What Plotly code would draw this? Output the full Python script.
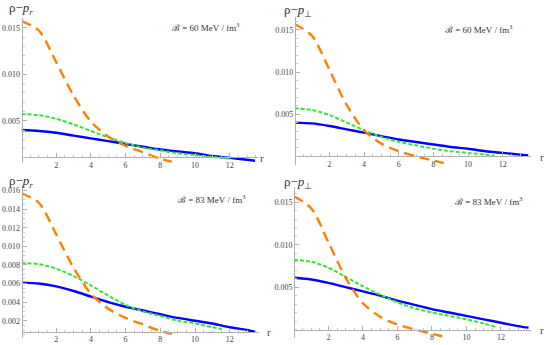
import plotly.graph_objects as go

# ---------------- data ----------------
# B = 60 MeV/fm^3, rho - p_r
r_blue_60r = [0, 1, 2, 3, 4, 5, 6, 7, 8, 9, 10, 11, 12, 13, 13.46]
blue_60r = [0.0040, 0.0039, 0.0037, 0.0034, 0.0031, 0.0028, 0.0025, 0.0022, 0.0019, 0.0017, 0.0015, 0.0012, 0.0010, 0.0008, 0.0007]
r_green_60r = [0, 1, 2, 3, 4, 5, 6, 7, 8, 9, 10, 11, 12.07]
green_60r = [0.0057, 0.0056, 0.0052, 0.0046, 0.0039, 0.0032, 0.0026, 0.0021, 0.0018, 0.0015, 0.0013, 0.0011, 0.0009]
r_orange_r = [0, 1, 2, 3, 4, 5, 6, 7, 8, 8.67]
orange_r = [0.0157, 0.0147, 0.0113, 0.0077, 0.0049, 0.0033, 0.0023, 0.0016, 0.0009, 0.0006]

# B = 60 MeV/fm^3, rho - p_perp
r_blue_60t = [0, 1, 2, 3, 4, 5, 6, 7, 8, 9, 10, 11, 12, 13, 13.5]
blue_60t = [0.0040, 0.0039, 0.0036, 0.0032, 0.0028, 0.0024, 0.0020, 0.0017, 0.0014, 0.0011, 0.0009, 0.0006, 0.0004, 0.0002, 0.0001]
r_green_60t = [0, 1, 2, 3, 4, 5, 6, 7, 8, 9, 10, 11, 11.55]
green_60t = [0.0057, 0.0055, 0.0049, 0.0040, 0.0031, 0.0023, 0.0017, 0.0013, 0.0009, 0.0006, 0.0004, 0.0002, 0.0000]
r_orange_t = [0, 1, 2, 3, 4, 5, 6, 7, 8, 8.6]
orange_t = [0.0157, 0.0143, 0.0103, 0.0061, 0.0031, 0.0015, 0.0006, 0.0000, -0.0005, -0.0008]

# B = 83 MeV/fm^3, rho - p_r
r_blue_83r = [0, 1, 2, 3, 4, 5, 6, 7, 8, 9, 10, 11, 12, 13, 13.46]
blue_83r = [0.0061, 0.0060, 0.0057, 0.0052, 0.0046, 0.0040, 0.0035, 0.0031, 0.0027, 0.0023, 0.0020, 0.0017, 0.0013, 0.0010, 0.0008]
r_green_83r = [0, 1, 2, 3, 4, 5, 6, 7, 8, 9, 10, 11, 11.54]
green_83r = [0.0082, 0.0081, 0.0076, 0.0068, 0.0058, 0.0047, 0.0037, 0.0030, 0.0025, 0.0020, 0.0017, 0.0013, 0.0011]

# B = 83 MeV/fm^3, rho - p_perp
r_blue_83t = [0, 1, 2, 3, 4, 5, 6, 7, 8, 9, 10, 11, 12, 13, 13.6]
blue_83t = [0.0061, 0.0059, 0.0055, 0.0050, 0.0045, 0.0040, 0.0034, 0.0029, 0.0024, 0.0020, 0.0016, 0.0012, 0.0008, 0.0004, 0.0002]
r_green_83t = [0, 1, 2, 3, 4, 5, 6, 7, 8, 9, 10, 11, 11.7]
green_83t = [0.0082, 0.0080, 0.0073, 0.0062, 0.0051, 0.0041, 0.0032, 0.0025, 0.0020, 0.0016, 0.0012, 0.0007, 0.0003]

x_ticks = [2, 4, 6, 8, 10, 12]
y_ticks_a = [0.005, 0.010, 0.015]
y_ticks_b = [0.002, 0.004, 0.006, 0.008, 0.010, 0.012, 0.014, 0.016]

y_titles = ["ρ−<i>p</i><sub><i>r</i></sub>", "ρ−<i>p</i><sub>⊥</sub>",
            "ρ−<i>p</i><sub><i>r</i></sub>", "ρ−<i>p</i><sub>⊥</sub>"]
b_labels = ["ℬ = 60 MeV / fm<sup>3</sup>", "ℬ = 60 MeV / fm<sup>3</sup>",
            "ℬ = 83 MeV / fm<sup>3</sup>", "ℬ = 83 MeV / fm<sup>3</sup>"]

# ---------------- layout geometry (pixels) ----------------
W, H = 550, 345
FONT = "Liberation Serif"
BLUE, GREEN, ORANGE = "#0000ff", "#33e633", "#ff8000"

panels = [
    dict(x0=21.5, xs=17.35, xr=[0.01, 13.65], y0=167.2, ys=9300, yr=[0.00045, 0.0160], ax=0.0011,
         yt=y_ticks_a, ym=0.001,
         series=[(r_blue_60r, blue_60r), (r_green_60r, green_60r), (r_orange_r, orange_r)],
         title=(7, 9), blab=(170, 27), rlab=(258, 158)),
    dict(x0=294.6, xs=17.35, xr=[0.01, 13.65], y0=156.3, ys=8430, yr=[-0.00105, 0.0165], ax=0.0,
         yt=y_ticks_a, ym=0.001,
         series=[(r_blue_60t, blue_60t), (r_green_60t, green_60t), (r_orange_t, orange_t)],
         title=(282, 10), blab=(443, 29), rlab=(538, 157)),
    dict(x0=21.5, xs=17.35, xr=[0.01, 13.7], y0=339.3, ys=9290, yr=[0.00015, 0.0166], ax=0.0008,
         yt=y_ticks_b, ym=0.0005,
         series=[(r_blue_83r, blue_83r), (r_green_83r, green_83r), (r_orange_r, orange_r)],
         title=(7, 181), blab=(176, 199), rlab=(265, 332)),
    dict(x0=293.9, xs=17.25, xr=[0.01, 13.75], y0=329.5, ys=8480, yr=[-0.00105, 0.0168], ax=0.0,
         yt=y_ticks_a, ym=0.001,
         series=[(r_blue_83t, blue_83t), (r_green_83t, green_83t), (r_orange_t, orange_t)],
         title=(282, 182), blab=(453, 201), rlab=(538, 330)),
]

styles = [dict(color=BLUE, width=2.4, dash="solid"),
          dict(color=GREEN, width=2.0, dash="4px,2px"),
          dict(color=ORANGE, width=2.4, dash="10px,6px")]

fig = go.Figure()
layout = dict(width=W, height=H, margin=dict(l=0, r=0, t=0, b=0, pad=0, autoexpand=False), autosize=False,
              paper_bgcolor="white", plot_bgcolor="rgba(0,0,0,0)", showlegend=False,
              font=dict(family=FONT, color="#444"))
annotations = []

for i, p in enumerate(panels, start=1):
    xa = "x" if i == 1 else f"x{i}"
    ya = "y" if i == 1 else f"y{i}"
    for (rx, vy), st in zip(p["series"], styles):
        fig.add_trace(go.Scatter(x=rx, y=vy, mode="lines", xaxis=xa, yaxis=ya,
                                 line=dict(color=st["color"], width=st["width"], dash=st["dash"],
                                           shape="spline", smoothing=0.8),
                                 hoverinfo="skip"))
    xd = [(p["x0"] + p["xr"][0] * p["xs"]) / W, (p["x0"] + p["xr"][1] * p["xs"]) / W]
    top_px = p["y0"] - p["yr"][1] * p["ys"]
    bot_px = p["y0"] - p["yr"][0] * p["ys"]
    yd = [1 - bot_px / H, 1 - top_px / H]
    axis_pos = 1 - (p["y0"] - p["ax"] * p["ys"]) / H
    layout["xaxis" if i == 1 else f"xaxis{i}"] = dict(
        domain=xd, range=p["xr"], anchor="free", position=axis_pos, automargin=False,
        showgrid=False, zeroline=False, showline=True, linecolor="#b0b0b0", linewidth=1,
        tickmode="array", tickvals=x_ticks, ticks="inside", ticklen=4, tickcolor="#b0b0b0",
        tickfont=dict(family=FONT, size=8, color="#444"), ticklabelstandoff=0,
        minor=dict(tickmode="linear", tick0=0, dtick=0.5, ticks="inside", ticklen=2, tickcolor="#c8c8c8"))
    layout["yaxis" if i == 1 else f"yaxis{i}"] = dict(
        domain=yd, range=p["yr"], anchor="free", position=xd[0], automargin=False,
        showgrid=False, zeroline=False, showline=True, linecolor="#b0b0b0", linewidth=1,
        tickmode="array", tickvals=p["yt"], ticktext=[f"{v:.3f}" for v in p["yt"]],
        ticks="inside", ticklen=4, tickcolor="#b0b0b0",
        tickfont=dict(family=FONT, size=8, color="#444"), ticklabelstandoff=0,
        minor=dict(tickmode="linear", tick0=0, dtick=p["ym"], ticks="inside", ticklen=2, tickcolor="#c8c8c8"))
    annotations.append(dict(text=y_titles[i - 1], xref="paper", yref="paper",
                            x=p["title"][0] / W, y=1 - p["title"][1] / H, xanchor="left", yanchor="middle",
                            showarrow=False, font=dict(family=FONT, size=13, color="#333")))
    annotations.append(dict(text=b_labels[i - 1], xref="paper", yref="paper",
                            x=p["blab"][0] / W, y=1 - p["blab"][1] / H, xanchor="left", yanchor="middle",
                            showarrow=False, font=dict(family=FONT, size=9, color="#333")))
    annotations.append(dict(text="r", xref="paper", yref="paper",
                            x=p["rlab"][0] / W, y=1 - p["rlab"][1] / H, xanchor="left", yanchor="middle",
                            showarrow=False, font=dict(family=FONT, size=11, color="#444")))

layout["annotations"] = annotations
fig.update_layout(**layout)
fig.write_html("out.html", config={"displayModeBar": False},
               post_script="document.body.style.margin='0';document.body.style.overflow='hidden';")
